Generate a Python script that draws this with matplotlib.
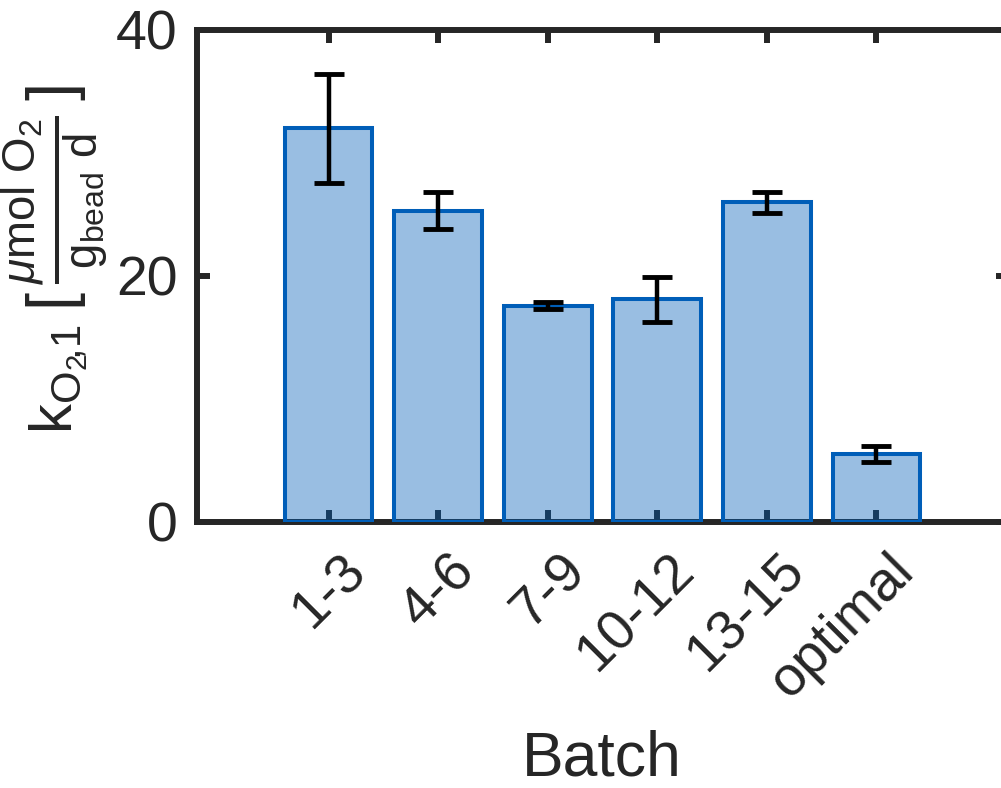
import matplotlib
matplotlib.use('Agg')
import matplotlib.pyplot as plt
import matplotlib.transforms as mtransforms
import numpy as np

# データ
batches = ['1-3', '4-6', '7-9', '10-12', '13-15', 'optimal']
k_values = [32.0, 25.3, 17.6, 18.1, 26.0, 5.55]
k_errors = [4.4, 1.5, 0.3, 1.85, 0.85, 0.65]
y_ticks = [0, 20, 40]

plt.rcParams['font.family'] = ['Liberation Sans', 'DejaVu Sans']
plt.rcParams['mathtext.fontset'] = 'custom'
plt.rcParams['mathtext.rm'] = 'Liberation Sans'
plt.rcParams['mathtext.it'] = 'Liberation Sans:italic'
plt.rcParams['mathtext.bf'] = 'Liberation Sans:bold'

dark = '#262626'
blue = (0 / 255, 94 / 255, 184 / 255)

fig = plt.figure(figsize=(10.01, 7.88), dpi=100)
W, H = 1001, 788
# 軸の位置 (右端は図の外に少しはみ出す)
ax = fig.add_axes([197 / W, (H - 522) / H, (1008 - 197) / W, (522 - 30) / H])

x = np.arange(1, len(batches) + 1)
ax.bar(x, k_values, width=0.8, facecolor=blue + (0.4,), edgecolor=blue,
       linewidth=2.9, zorder=3)
ax.errorbar(x, k_values, yerr=k_errors, fmt='none', ecolor='black',
            elinewidth=3.2, capsize=11, capthick=3.5, zorder=4)

ax.set_xlim(-0.2, 7.2)
ax.set_ylim(0, 40)
ax.set_yticks(y_ticks)
ax.set_xticks(x)
ax.set_xticklabels(batches, rotation=45, ha='right', va='top')

for s in ax.spines.values():
    s.set_linewidth(4.3)
    s.set_color(dark)
    s.set_zorder(2.5)
ax.set_axisbelow(True)
ax.tick_params(axis='both', direction='in', length=9, width=4.3, color=dark,
               labelcolor=dark, labelsize=40, top=True, right=True)
ax.tick_params(axis='y', pad=14)
ax.tick_params(axis='x', pad=16)

# MATLAB風に回転ラベルを右にずらす
offset = mtransforms.ScaledTranslation(48 / 100, 0, fig.dpi_scale_trans)
for lab in ax.get_xticklabels():
    lab.set_transform(lab.get_transform() + offset)

ax.set_xlabel('Batch', fontsize=45, color=dark, va='baseline')
ax.xaxis.set_label_coords((602 - 197) / 811, (522 - 776) / 492)

# 縦軸ラベル (記号部分と単位部分を別々に描く)
fig.text(72 / W, 1 - 434 / H, r'$\mathrm{k}_{\mathrm{O}_2\!{,}\mathrm{1}}$', fontsize=43,
         color=dark, rotation=90, rotation_mode='anchor', ha='left', va='baseline')
fig.text(56 / W, 1 - 198 / H,
         r'$[\,\frac{\mu\mathrm{mol}\ \mathrm{O}_2}{\mathrm{g}_{\mathrm{bead}}\ \mathrm{d}}\,]$',
         fontsize=47, color=dark, rotation=90, rotation_mode='anchor',
         ha='center', va='center')

fig.savefig('out.png', dpi=100)
